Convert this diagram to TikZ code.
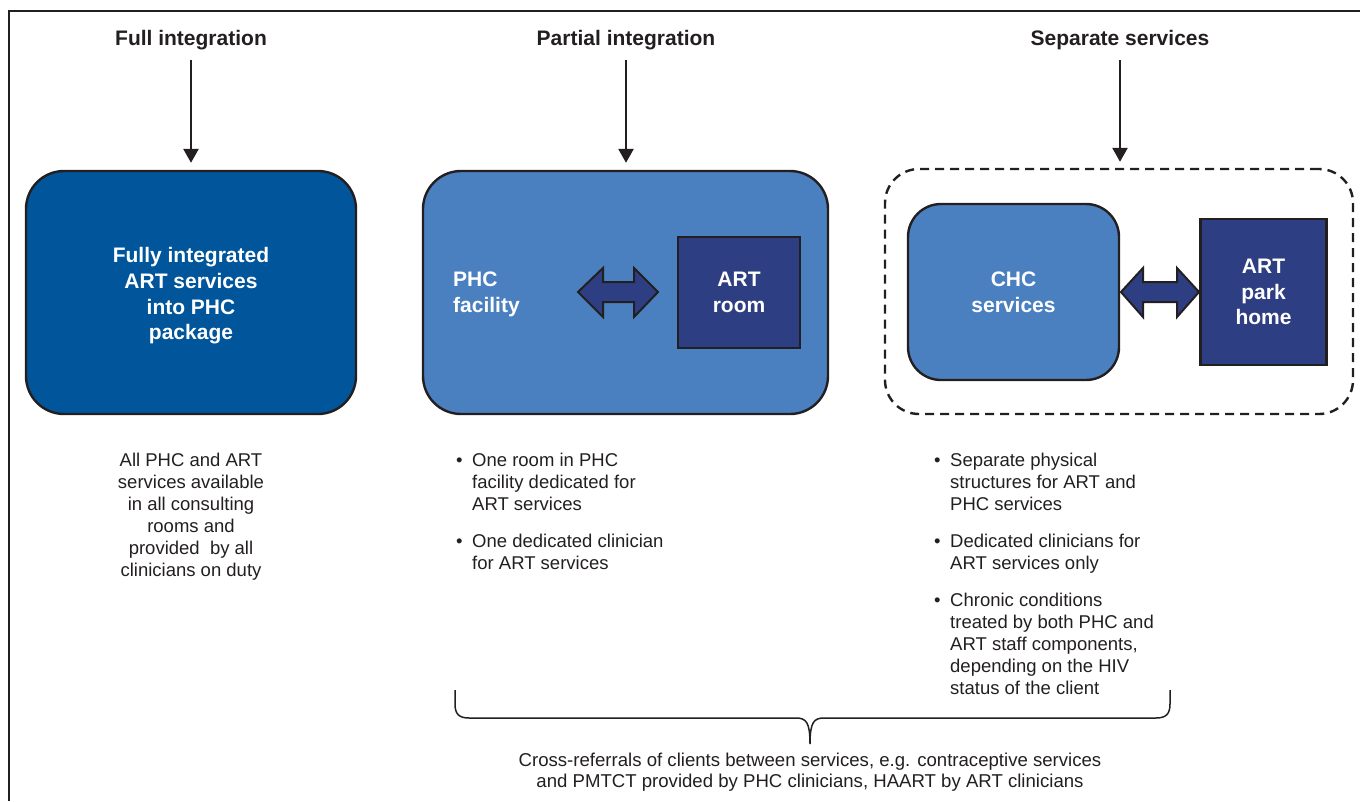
\documentclass[tikz,border=0pt]{standalone}
\usepackage{fontspec}
\setmainfont{Liberation Sans}
\usetikzlibrary{arrows.meta}
\definecolor{ink}{HTML}{231F20}
\definecolor{dblue}{HTML}{00559B}
\definecolor{mblue}{HTML}{4A80C0}
\definecolor{navy}{HTML}{2E3E82}
\begin{document}
\begin{tikzpicture}[x=1pt,y=-1pt,
  title/.style={font=\fontsize{21}{25}\selectfont\bfseries, text=ink, inner sep=0pt},
  body/.style={font=\fontsize{18.5}{22}\selectfont, text=ink, inner sep=0pt, align=left},
  boxtxt/.style={font=\fontsize{21}{25.7}\selectfont\bfseries, text=white, align=center},
  rbox/.style={draw=ink, line width=2.4pt, rounded corners=38pt, inner sep=0pt},
  sqbox/.style={draw=ink, line width=2.2pt, fill=navy, inner sep=0pt},
  arr/.style={draw=ink, line width=2.6pt, -{Triangle[width=15pt,length=14pt]}},
  blockarr/.style={draw=ink, line width=2pt, fill=navy, line join=miter},
  brace/.style={draw=ink, line width=1.5pt},
  frame/.style={draw=ink, line width=1.2pt}
]
\useasboundingbox (0,0) rectangle (1360,801);
\draw[frame] (9,801) -- (9,11) -- (1360,11);

% titles
\node[title, anchor=base] (t1) at (191,45) {Full integration};
\node[title, anchor=base] (t2) at (626,45) {Partial integration};
\node[title, anchor=base] (t3) at (1120,45) {Separate services};

% main boxes
\node[rbox, fill=dblue, minimum width=330pt, minimum height=243pt] (full) at (191,292.5) {};
\node[boxtxt, inner sep=0pt] (fulltxt) at (191,296) {Fully integrated\\ART services\\into PHC\\package};
\node[rbox, fill=mblue, minimum width=405pt, minimum height=243pt] (partial) at (625.5,292.5) {};
\node[draw=ink, line width=2.4pt, dash pattern=on 9pt off 6pt, rounded corners=34pt,
  minimum width=468pt, minimum height=245pt, inner sep=0pt] (sep) at (1119,291.5) {};

% arrows from titles
\draw[arr] ([yshift=-10.5pt]t1.south) -- ([yshift=7pt]full.north);
\draw[arr] ([yshift=-10.5pt]t2.south) -- ([yshift=7pt]partial.north -| t2.south);
\draw[arr] ([yshift=-10.5pt]t3.south) -- ([yshift=6pt]sep.north -| t3.south);

% partial integration content
\node[boxtxt, align=left, anchor=west, inner sep=0pt] (phc) at (453,294) {PHC\\facility};
\node[sqbox, minimum width=122pt, minimum height=111pt, boxtxt] (artroom) at (739,292.5) {ART\\room};
\draw[blockarr] (578,292) -- (603,268) -- (603,282) -- (634,282) -- (634,268) -- (658,292)
  -- (634,317) -- (634,302) -- (603,302) -- (603,317) -- cycle;

% separate services content
\node[rbox, rounded corners=33pt, fill=mblue, minimum width=211pt, minimum height=176pt, boxtxt] (chc)
  at (1013.5,292) {CHC\\services};
\node[sqbox, minimum width=126pt, minimum height=146pt, boxtxt] (park) at (1263.5,292) {ART\\park\\home};
\draw[blockarr] (1121,292) -- (1143,268) -- (1143,282) -- (1177,282) -- (1177,268) -- (1199,292)
  -- (1177,317) -- (1177,302) -- (1143,302) -- (1143,317) -- cycle;

% descriptions
\node[body, align=center, anchor=north] (d1) at (191,452.5)
  {All PHC and ART\\services available\\in all consulting\\rooms and\\provided\ \ by all\\clinicians on duty};
\node[body, anchor=north west] (p1) at (472,452.5)
  {\llap{•\hspace{9.5pt}}One room in PHC\\facility dedicated for\\ART services};
\node[body, anchor=north west] (p2) at (472,533.5)
  {\llap{•\hspace{9.5pt}}One dedicated clinician\\for ART services};
\node[body, anchor=north west] (s1) at (950,452.5)
  {\llap{•\hspace{9.5pt}}Separate physical\\structures for ART and\\PHC services};
\node[body, anchor=north west] (s2) at (950,533.5)
  {\llap{•\hspace{9.5pt}}Dedicated clinicians for\\ART services only};
\node[body, anchor=north west] (s3) at (950,592.5)
  {\llap{•\hspace{9.5pt}}Chronic conditions\\treated by both PHC and\\ART staff components,\\depending on the HIV\\status of the client};

% brace
\draw[brace] (455,690) -- (455,704) .. controls (455,714) and (459,718) .. (469,718) -- (796,718)
  .. controls (806,718) and (810,722) .. (810,744)
  .. controls (810,722) and (814,718) .. (824,718) -- (1156,718)
  .. controls (1166,718) and (1170,714) .. (1170,704) -- (1170,690);

\node[body, align=center, anchor=north, font=\fontsize{18.6}{21}\selectfont] (cr) at (810,753)
  {Cross-referrals of clients between services, e.g. contraceptive services\\and PMTCT provided by PHC clinicians, HAART by ART clinicians};
\end{tikzpicture}
\end{document}
